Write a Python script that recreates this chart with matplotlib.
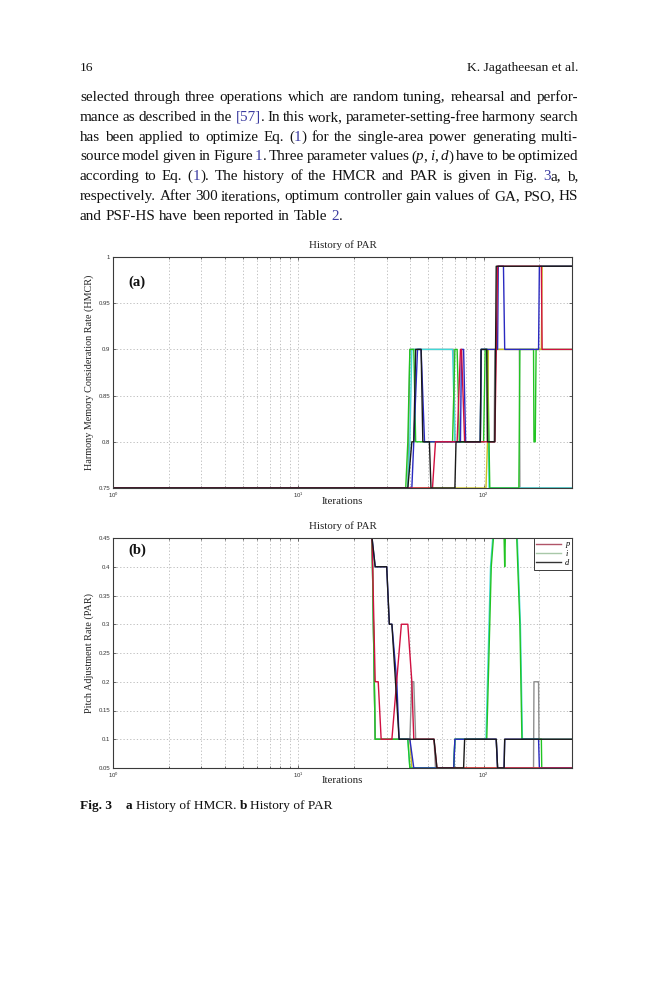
import re
import matplotlib
matplotlib.use("Agg")
import matplotlib.pyplot as plt
from matplotlib.lines import Line2D
from matplotlib.ticker import LogLocator, NullFormatter

# --- page text ---
header_left = "16"
header_right = "K. Jagatheesan et al."
# {..} = blue link text, _.._ = italic
para_lines = [
    "selected through three operations which are random tuning, rehearsal and perfor-",
    "mance as described in the {[57]}. In this work, parameter-setting-free harmony search",
    "has been applied to optimize Eq. ({1}) for the single-area power generating multi-",
    "source model given in Figure {1}. Three parameter values (_p_, _i_, _d_) have to be optimized",
    "according to Eq. ({1}). The history of the HMCR and PAR is given in Fig. {3}a, b,",
    "respectively. After 300 iterations, optimum controller gain values of GA, PSO, HS",
    "and PSF-HS have been reported in Table {2}.",
]
caption_parts = [("Fig. 3", "bold"), ("  ", "normal"), ("a", "bold"),
                 (" History of HMCR. ", "normal"), ("b", "bold"),
                 (" History of PAR", "normal")]

# --- (a) HMCR history: change points (iteration, value) per line ---
hm_gray_it = [1, 39, 40, 69, 70, 96, 97, 104, 105, 114, 115, 156, 157, 300]
hm_gray_val = [.75, .75, .9, .9, .8, .8, .9, .9, .8, .8, .9, .9, .75, .75]
hm_cyan_it = [1, 39, 40, 41, 68, 70, 96, 97, 105, 107, 300]
hm_cyan_val = [.75, .75, .8, .9, .9, .8, .8, .9, .9, .75, .75]
hm_green_it = [1, 38, 39, 40, 42, 43, 68, 70, 72, 74, 100, 102, 105, 108, 155, 157, 186, 187, 190, 192, 300]
hm_green_val = [.75, .75, .8, .9, .9, .8, .8, .9, .9, .8, .8, .9, .9, .75, .75, .9, .9, .8, .8, .9, .9]
hm_yellow_it = [1, 103, 105, 106, 205, 207, 300]
hm_yellow_val = [.75, .75, .8, .9, .9, .99, .99]
hm_blue_it = [1, 41, 42, 44, 46, 48, 75, 76, 78, 80, 96, 97, 119, 120, 128, 130, 198, 200, 300]
hm_blue_val = [.75, .75, .8, .9, .9, .8, .8, .9, .9, .8, .8, .9, .9, .99, .99, .9, .9, .99, .99]
hm_red_it = [1, 53, 55, 72, 75, 76, 79, 115, 119, 205, 207, 300]
hm_red_val = [.75, .75, .8, .8, .9, .9, .8, .8, .99, .99, .9, .9]
hm_black_it = [1, 39, 41, 42, 43, 46, 47, 51, 52, 70, 71, 96, 97, 104, 105, 115, 117, 300]
hm_black_val = [.75, .75, .8, .8, .9, .9, .8, .8, .75, .75, .8, .8, .9, .9, .8, .8, .99, .99]

# --- (b) PAR history ---
pa_yellow_it = [1, 25, 26, 40, 41, 300]
pa_yellow_val = [.45, .45, .1, .1, .05, .05]
pa_cyan_it = [1, 25, 26, 39, 40, 69, 70, 103, 109, 112, 152, 158, 162, 300]
pa_cyan_val = [.45, .45, .1, .1, .05, .05, .1, .1, .4, .45, .45, .3, .1, .1]
pa_gray_it = [1, 25, 26, 40, 41, 42, 43, 54, 55, 69, 70, 117, 119, 186, 187, 198, 199, 300]
pa_gray_val = [.45, .45, .1, .1, .2, .2, .1, .1, .05, .05, .1, .1, .05, .05, .2, .2, .1, .1]
pa_i_it = [1, 25, 26, 39, 40, 69, 70, 104, 110, 113, 129, 130, 131, 151, 157, 161, 205, 206, 300]
pa_i_val = [.45, .45, .1, .1, .05, .05, .1, .1, .4, .45, .45, .4, .45, .45, .3, .1, .1, .05, .05]
pa_blue_it = [1, 25, 26, 30, 31, 32, 34, 35, 40, 42, 69, 70, 117, 119, 129, 130, 198, 200, 300]
pa_blue_val = [.45, .45, .4, .4, .3, .3, .2, .1, .1, .05, .05, .1, .1, .05, .05, .1, .1, .05, .05]
pa_p_it = [1, 25, 26, 27, 28, 32, 36, 39, 41, 42, 54, 56, 300]
pa_p_val = [.45, .45, .2, .2, .1, .1, .3, .3, .2, .1, .1, .05, .05]
pa_d_it = [1, 25, 26, 30, 31, 32, 35, 54, 56, 78, 79, 117, 119, 129, 130, 300]
pa_d_val = [.45, .45, .4, .4, .3, .3, .1, .1, .05, .05, .1, .1, .05, .05, .1, .1]

legend_labels = ["p", "i", "d"]

W, H = 659, 1000
SERIF = "Liberation Serif"
BLUE_LINK = "#3a3aa0"

fig = plt.figure(figsize=(W / 100, H / 100), dpi=100)
rend = fig.canvas.get_renderer()


def fx(x):
    return x / W


def fy(y):
    return 1 - y / H


def text_w(s, size, weight="normal", style="normal"):
    t = fig.text(0, 0, s, fontsize=size, family=SERIF, weight=weight, style=style)
    w = t.get_window_extent(renderer=rend).width
    t.remove()
    return w


def split_word(word):
    pieces = []
    for part in re.split(r"(\{[^}]*\}|_[^_]*_)", word):
        if not part:
            continue
        if part.startswith("{"):
            pieces.append((part[1:-1], BLUE_LINK, "normal"))
        elif part.startswith("_"):
            pieces.append((part[1:-1], "#111111", "italic"))
        else:
            pieces.append((part, "#111111", "normal"))
    return pieces


def draw_line(line, y, x0, x1, size, justify):
    words = [split_word(w) for w in line.split(" ")]
    widths = [[text_w(p[0], size, style=p[2]) for p in w] for w in words]
    total = sum(sum(w) for w in widths)
    space = text_w("a a", size) - text_w("aa", size)
    if justify and len(words) > 1:
        gap = (x1 - x0 - total) / (len(words) - 1)
    else:
        gap = space
    x = x0
    for w, ws in zip(words, widths):
        for (s, col, st), pw in zip(w, ws):
            fig.text(fx(x), fy(y), s, fontsize=size, family=SERIF, style=st,
                     color=col, va="baseline", ha="left")
            x += pw
        x += gap


# header and paragraph
fig.text(fx(80), fy(71), header_left, fontsize=9.7, family=SERIF, va="baseline", color="#111111")
fig.text(fx(578), fy(71), header_right, fontsize=9.7, family=SERIF, va="baseline",
         ha="right", color="#111111")
base0, lead = 101, 19.8
for k, ln in enumerate(para_lines):
    draw_line(ln, base0 + k * lead, 80, 578, 10.9, justify=(k < len(para_lines) - 1))

# caption
cx = 80
for s, wt in caption_parts:
    s_draw = s.strip()
    lead_sp = len(s) - len(s.lstrip())
    sp = text_w("a a", 9.6) - text_w("aa", 9.6)
    cx += lead_sp * sp
    fig.text(fx(cx), fy(809), s_draw, fontsize=9.6, family=SERIF, weight=wt,
             va="baseline", color="#111111")
    cx += text_w(s_draw, 9.6, weight=wt)
    cx += (len(s) - len(s.rstrip())) * sp


def style_axes(ax, ylo, yhi, yticks, ylabels, ylabel, tag, tag_y):
    ax.set_xscale("log")
    ax.set_xlim(1, 300)
    ax.set_ylim(ylo, yhi)
    ax.set_yticks(yticks)
    ax.set_yticklabels(ylabels)
    ax.xaxis.set_major_locator(LogLocator(base=10, numticks=10))
    ax.xaxis.set_minor_locator(LogLocator(base=10, subs=range(2, 10), numticks=20))
    ax.xaxis.set_minor_formatter(NullFormatter())
    ax.grid(True, which="both", axis="x", ls=(0, (1.5, 2.5)), color="#b5b5b5", lw=0.6)
    ax.grid(True, which="major", axis="y", ls=(0, (1.5, 2.5)), color="#b5b5b5", lw=0.6)
    ax.tick_params(which="both", direction="in", top=True, right=True,
                   labelsize=4.3, width=0.5, colors="#333333", pad=2)
    ax.tick_params(which="major", length=2.5)
    ax.tick_params(which="minor", length=1.5)
    for lab in ax.get_yticklabels() + ax.get_xticklabels():
        lab.set_family("Liberation Sans")
    for sp in ax.spines.values():
        sp.set_color("#3a3a3a")
        sp.set_linewidth(0.8)
    ax.set_ylabel(ylabel, fontsize=7.3, family=SERIF, va="center", color="#222222")
    ax.yaxis.set_label_coords(-24 / 459, 0.5)
    ax.set_xlabel("Iterations", fontsize=7.8, family=SERIF, va="center", color="#222222")
    ax.xaxis.set_label_coords(0.5, -13 / 231)
    ax.text(0.5, 1 + 12 / 231, "History of PAR", transform=ax.transAxes, ha="center",
            va="center", fontsize=7.8, family=SERIF, color="#222222")
    ax.text(0.033, tag_y, tag, transform=ax.transAxes, ha="left", va="center",
            fontsize=10.5, family=SERIF, weight="bold", color="#111111")


ax_a = fig.add_axes([113 / W, 1 - 488 / H, 459 / W, 231 / H])
ax_a.plot(hm_gray_it, hm_gray_val, color="#909090", lw=1.0)
ax_a.plot(hm_cyan_it, hm_cyan_val, color="#40d8d8", lw=1.0)
ax_a.plot(hm_green_it, hm_green_val, color="#22c422", lw=1.0)
ax_a.plot(hm_yellow_it, hm_yellow_val, color="#c8c020", lw=1.0)
ax_a.plot(hm_blue_it, hm_blue_val, color="#2a2ac0", lw=1.0)
ax_a.plot(hm_red_it, hm_red_val, color="#d01040", lw=1.0)
ax_a.plot(hm_black_it, hm_black_val, color="#1a1a1a", lw=1.0)
style_axes(ax_a, 0.75, 1.0, [0.75, 0.8, 0.85, 0.9, 0.95, 1.0],
           ["0.75", "0.8", "0.85", "0.9", "0.95", "1"],
           "Harmony Memory Consideration Rate (HMCR)", "(a)", 0.892)

ax_b = fig.add_axes([113 / W, 1 - 768 / H, 459 / W, 230 / H])
ax_b.plot(pa_yellow_it, pa_yellow_val, color="#c8c020", lw=1.0)
ax_b.plot(pa_cyan_it, pa_cyan_val, color="#40d8d8", lw=1.0)
ax_b.plot(pa_gray_it, pa_gray_val, color="#909090", lw=1.0)
ax_b.plot(pa_i_it, pa_i_val, color="#22c422", lw=1.0)
ax_b.plot(pa_blue_it, pa_blue_val, color="#2a2ac0", lw=1.0)
ax_b.plot(pa_p_it, pa_p_val, color="#d01040", lw=1.0)
ax_b.plot(pa_d_it, pa_d_val, color="#1a1a1a", lw=1.0)
style_axes(ax_b, 0.05, 0.45, [0.05, 0.1, 0.15, 0.2, 0.25, 0.3, 0.35, 0.4, 0.45],
           ["0.05", "0.1", "0.15", "0.2", "0.25", "0.3", "0.35", "0.4", "0.45"],
           "Pitch Adjustment Rate (PAR)", "(b)", 0.948)

handles = [Line2D([], [], color="#b05468", lw=1.0),
           Line2D([], [], color="#a8c8a8", lw=1.0),
           Line2D([], [], color="#333333", lw=1.0)]
leg = ax_b.legend(handles, legend_labels, loc="upper right", borderaxespad=0,
                  prop={"family": SERIF, "style": "italic", "size": 6},
                  fancybox=False, edgecolor="#3a3a3a", framealpha=1,
                  handlelength=3.0, labelspacing=0.15, borderpad=0.3, handletextpad=0.5)
leg.get_frame().set_linewidth(0.7)

fig.savefig("out.png", dpi=100, facecolor="white")
